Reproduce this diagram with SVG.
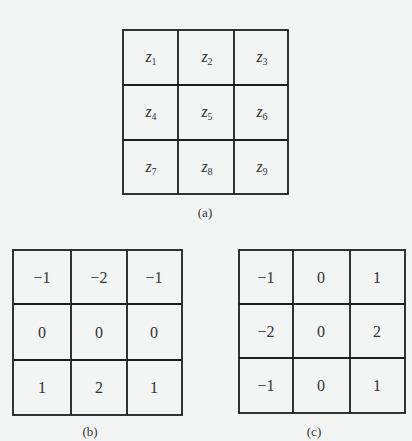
<svg xmlns="http://www.w3.org/2000/svg" width="412" height="441" viewBox="0 0 412 441">
<style>
.g{fill:none;stroke:#1e1e1e;stroke-width:1.8}
.t{font-family:"Liberation Serif","Times New Roman",serif;font-size:16px;fill:#333333;text-anchor:middle}
.z{font-style:italic}
.s{font-size:10px;font-style:normal}
.c{font-size:13px}
</style>
<rect width="412" height="441" fill="#f3f4f4"/>
<g id="grid-a">
<rect class="g" x="123" y="30" width="165" height="164"/>
<path class="g" d="M178 30V194M234 30V194M123 85H288M123 140H288"/>
<text class="t z" x="151" y="62">z<tspan class="s" dy="3">1</tspan></text>
<text class="t z" x="207" y="62">z<tspan class="s" dy="3">2</tspan></text>
<text class="t z" x="262" y="62">z<tspan class="s" dy="3">3</tspan></text>
<text class="t z" x="151" y="117">z<tspan class="s" dy="3">4</tspan></text>
<text class="t z" x="207" y="117">z<tspan class="s" dy="3">5</tspan></text>
<text class="t z" x="262" y="117">z<tspan class="s" dy="3">6</tspan></text>
<text class="t z" x="151" y="172">z<tspan class="s" dy="3">7</tspan></text>
<text class="t z" x="207" y="172">z<tspan class="s" dy="3">8</tspan></text>
<text class="t z" x="262" y="172">z<tspan class="s" dy="3">9</tspan></text>
<text class="t c" x="205" y="217">(a)</text>
</g>
<g id="grid-b">
<rect class="g" x="13" y="250" width="169" height="165"/>
<path class="g" d="M71 250V415M127 250V415M13 304H182M13 360H182"/>
<text class="t" x="42" y="283">−1</text>
<text class="t" x="99" y="283">−2</text>
<text class="t" x="154" y="283">−1</text>
<text class="t" x="42" y="338">0</text>
<text class="t" x="99" y="338">0</text>
<text class="t" x="154" y="338">0</text>
<text class="t" x="42" y="393">1</text>
<text class="t" x="99" y="393">2</text>
<text class="t" x="154" y="393">1</text>
<text class="t c" x="90" y="436">(b)</text>
</g>
<g id="grid-c">
<rect class="g" x="239" y="250" width="166" height="163"/>
<path class="g" d="M293 250V413M350 250V413M239 304H405M239 358H405"/>
<text class="t" x="266" y="283">−1</text>
<text class="t" x="321" y="283">0</text>
<text class="t" x="377" y="283">1</text>
<text class="t" x="266" y="337">−2</text>
<text class="t" x="321" y="337">0</text>
<text class="t" x="377" y="337">2</text>
<text class="t" x="266" y="391">−1</text>
<text class="t" x="321" y="391">0</text>
<text class="t" x="377" y="391">1</text>
<text class="t c" x="314" y="436">(c)</text>
</g>
</svg>
